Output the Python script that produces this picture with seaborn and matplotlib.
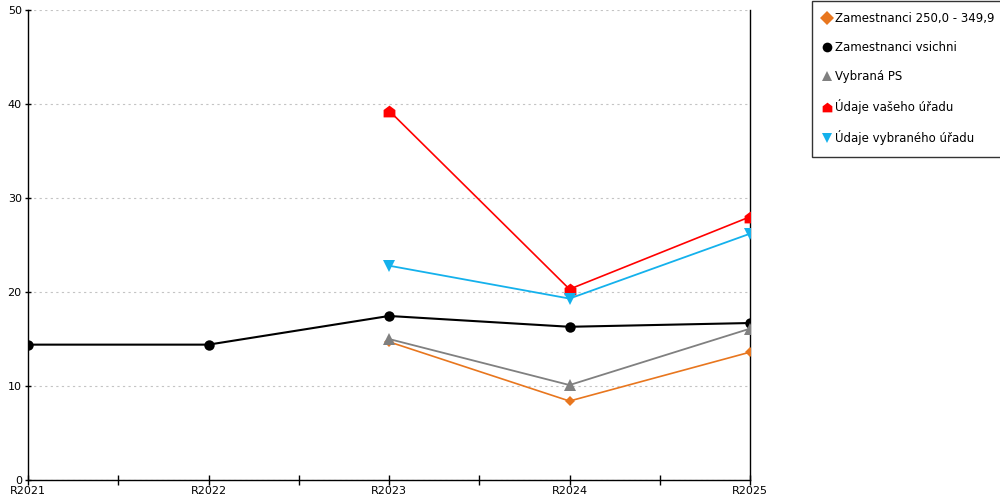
import numpy as np
import pandas as pd
import matplotlib
matplotlib.use("Agg")
import matplotlib.pyplot as plt
from matplotlib.path import Path
import seaborn as sns

# ------------------------------------------------------------
# Daten
# ------------------------------------------------------------
years = ["R2021", "R2022", "R2023", "R2024", "R2025"]

zam_250 = [np.nan, np.nan, 14.7, 8.4, 13.6]
zam_vsichni = [14.4, 14.4, 17.45, 16.3, 16.7]
vybrana_ps = [np.nan, np.nan, 15.0, 10.1, 16.1]
udaje_vaseho = [np.nan, np.nan, 39.3, 20.3, 28.0]
udaje_vybraneho = [np.nan, np.nan, 22.8, 19.3, 26.2]

series_names = [
    "Zamestnanci 250,0 - 349,9",
    "Zamestnanci vsichni",
    "Vybraná PS",
    "Údaje vašeho úřadu",
    "Údaje vybraného úřadu",
]
series_values = [zam_250, zam_vsichni, vybrana_ps, udaje_vaseho, udaje_vybraneho]

# "Haeuschen"-Marker fuer die rote Serie
house = Path([(-1, -1), (1, -1), (1, 0.25), (0, 1), (-1, 0.25), (-1, -1)],
             [Path.MOVETO, Path.LINETO, Path.LINETO, Path.LINETO, Path.LINETO, Path.CLOSEPOLY])

styles = {
    "Zamestnanci 250,0 - 349,9": dict(color="#e8761e", marker="D", ms=5.5, lw=1.2),
    "Zamestnanci vsichni": dict(color="#000000", marker="o", ms=7.5, lw=1.5),
    "Vybraná PS": dict(color="#808080", marker="^", ms=8, lw=1.3),
    "Údaje vašeho úřadu": dict(color="#ff0000", marker=house, ms=8.5, lw=1.2),
    "Údaje vybraného úřadu": dict(color="#14b1ec", marker="v", ms=8, lw=1.3),
}

df = pd.DataFrame({"x": np.arange(len(years))})
for name, vals in zip(series_names, series_values):
    df[name] = vals

# ------------------------------------------------------------
# Plot
# ------------------------------------------------------------
sns.set_style("white")
plt.rcParams["font.family"] = ["DejaVu Sans"]
plt.rcParams["text.color"] = "black"
plt.rcParams["xtick.color"] = "black"
plt.rcParams["ytick.color"] = "black"

fig = plt.figure(figsize=(10, 5), dpi=100)
ax = fig.add_axes([0.028, 0.04, 0.722, 0.94])

for name in series_names:
    st = styles[name]
    sub = df[["x", name]].dropna()
    sns.lineplot(data=sub, x="x", y=name, ax=ax, color=st["color"],
                 linewidth=st["lw"], marker=st["marker"], markersize=st["ms"],
                 markeredgewidth=0, label=name, zorder=3)

ax.set_xlim(0, len(years) - 1)
ax.set_ylim(0, 50)
ax.set_xticks(np.arange(len(years)))
ax.set_xticklabels(years)
ax.set_xticks(np.arange(0.5, len(years) - 1, 1), minor=True)
ax.set_yticks([0, 10, 20, 30, 40, 50])
ax.set_xlabel("")
ax.set_ylabel("")

ax.yaxis.grid(True, color="#c4c4c4", linestyle=(0, (2, 3)), linewidth=0.8)
ax.set_axisbelow(True)

for side in ["left", "bottom", "right"]:
    ax.spines[side].set_visible(True)
    ax.spines[side].set_color("black")
    ax.spines[side].set_linewidth(1.0)
ax.spines["top"].set_visible(False)

ax.tick_params(axis="x", which="both", direction="inout", length=7, width=1,
               labelsize=8, pad=1, bottom=True)
ax.tick_params(axis="y", which="major", direction="inout", length=5, width=1,
               labelsize=8, pad=2, left=True)

leg = ax.legend(loc="upper left", bbox_to_anchor=(0.812, 0.999), bbox_transform=fig.transFigure,
                frameon=True, fancybox=False, edgecolor="black", fontsize=8.5,
                handlelength=0.5, handletextpad=0.45, labelspacing=1.35,
                borderpad=1.0, borderaxespad=0)
leg.get_frame().set_linewidth(1.0)
for line in leg.get_lines():
    line.set_linestyle("None")
    line.set_markersize(7)
for t in leg.get_texts():
    t.set_color("black")

plt.savefig("out.png", dpi=100)
plt.close()
